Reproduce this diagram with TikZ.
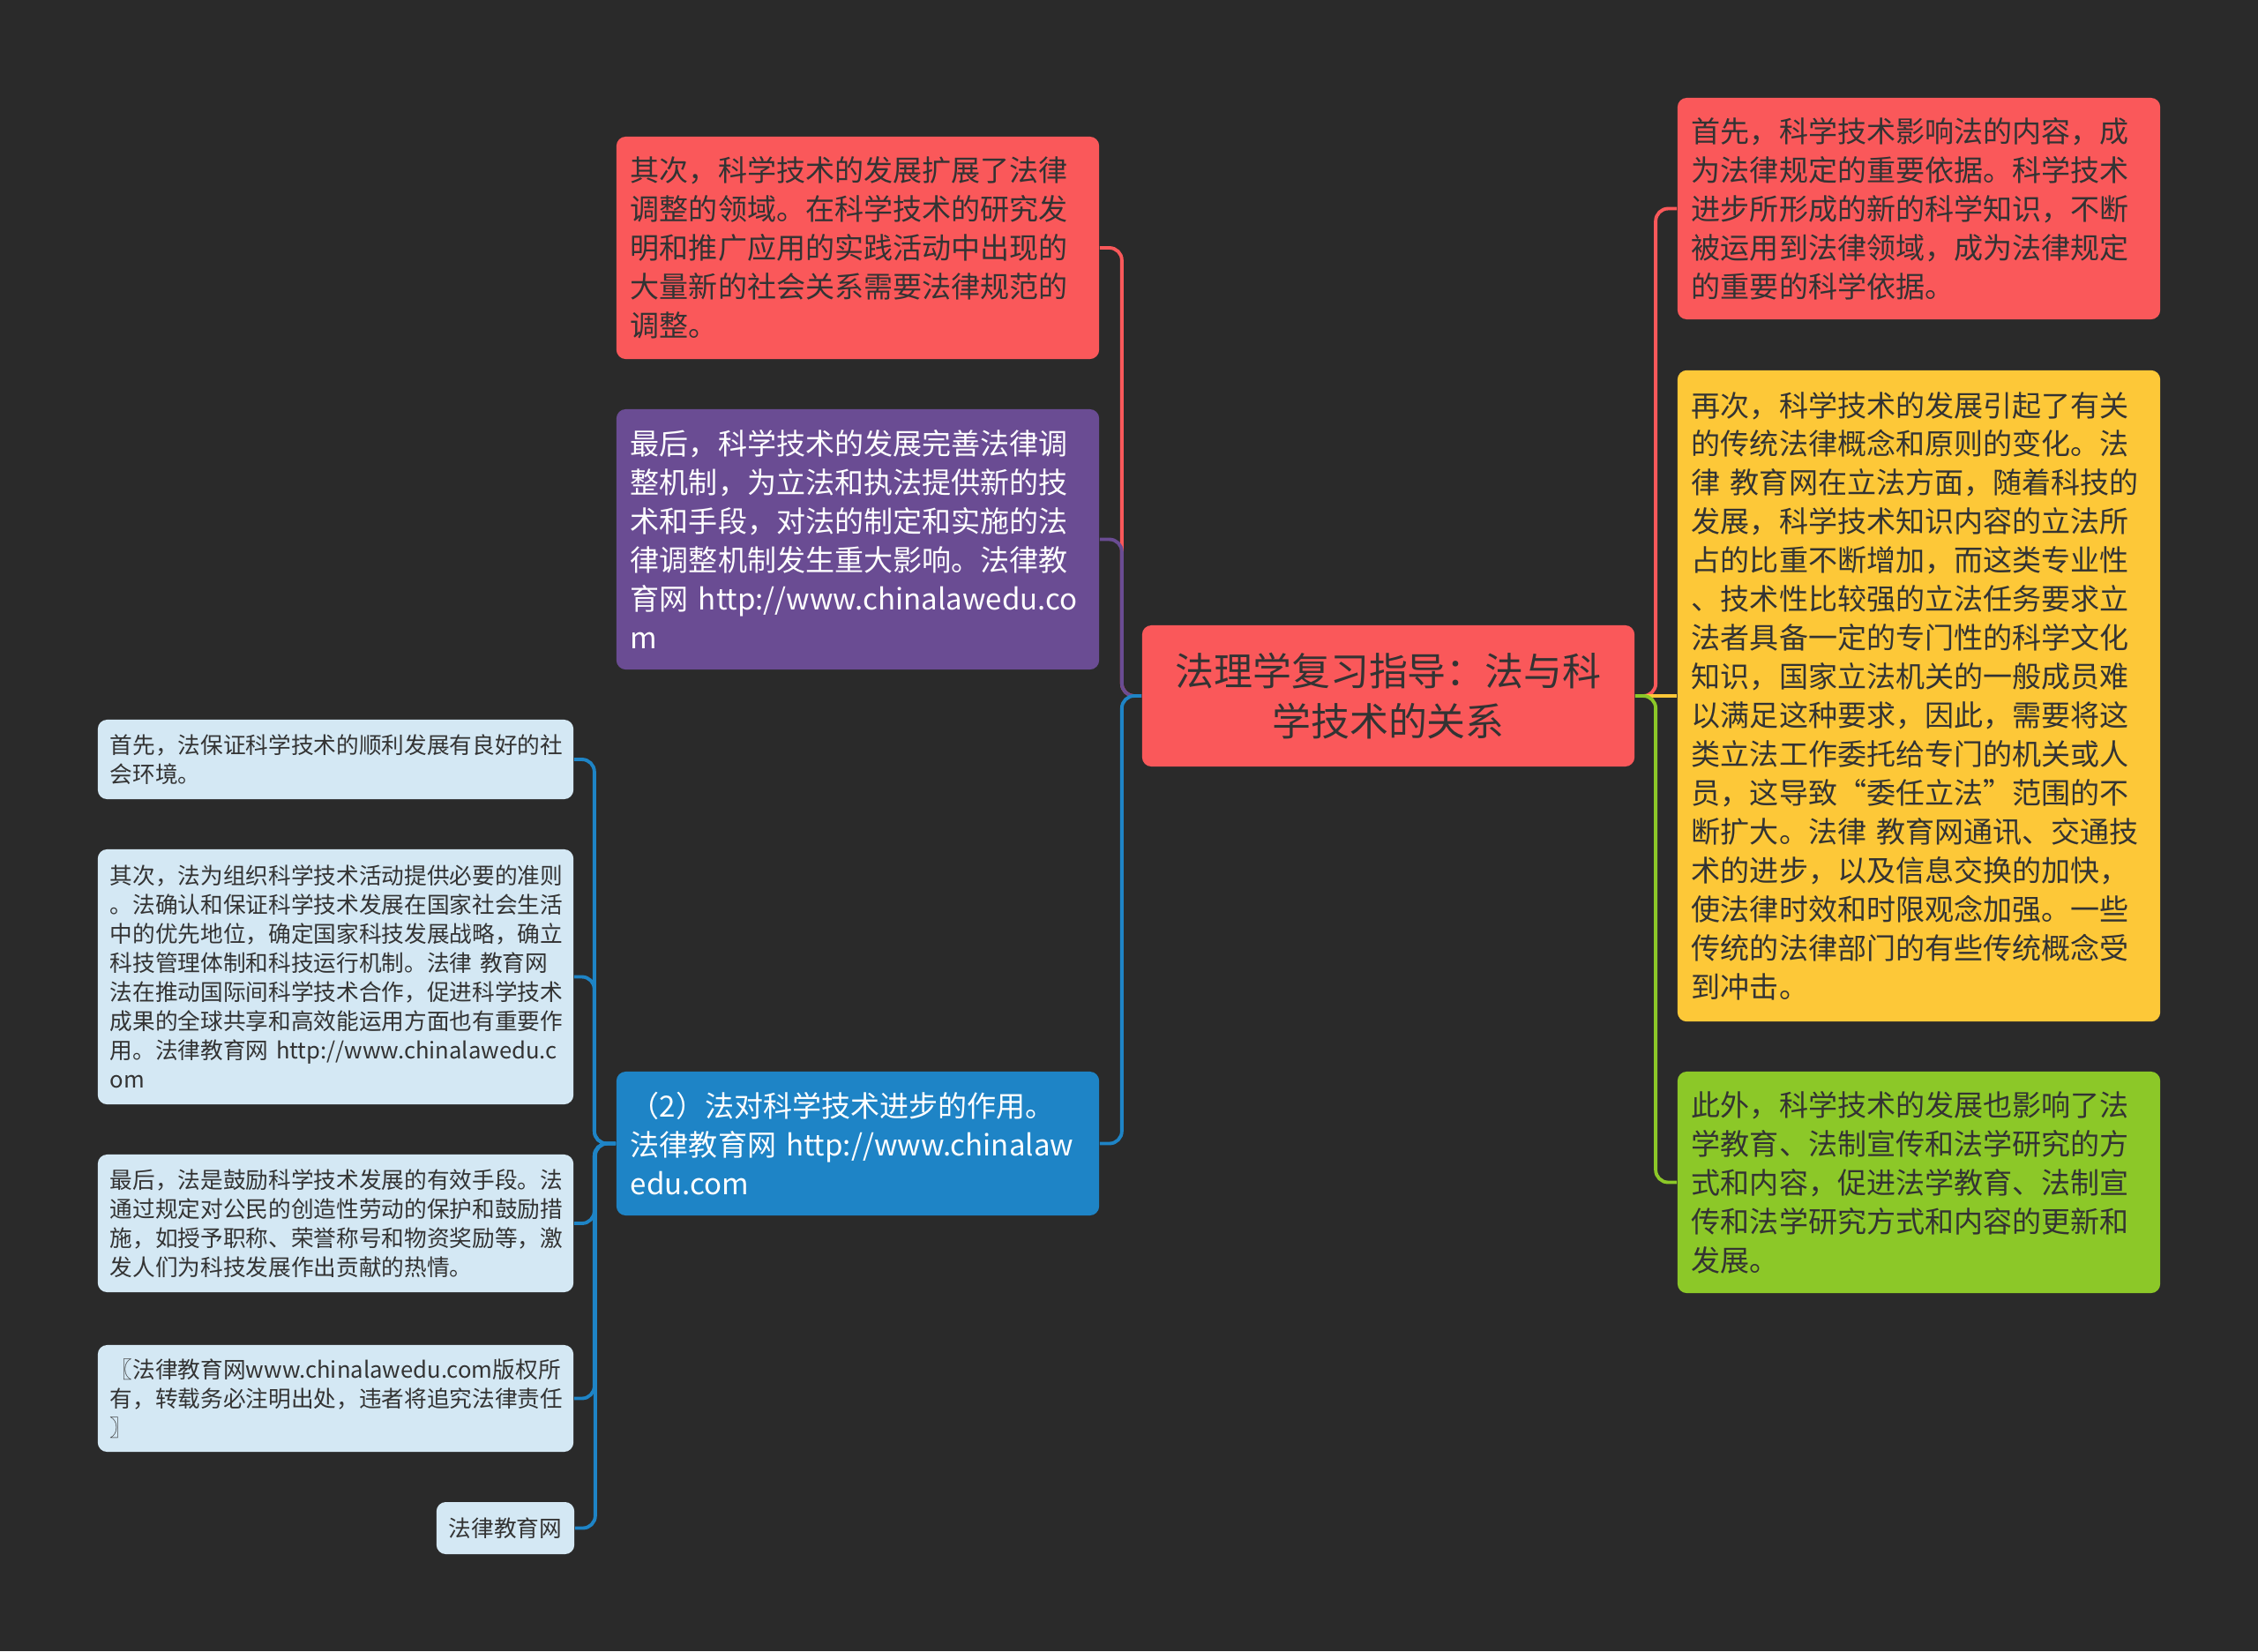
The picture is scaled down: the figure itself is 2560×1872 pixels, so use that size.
\documentclass[tikz,border=0pt]{standalone}
\usepackage{fontspec}
\setmainfont{Noto Sans CJK SC}
\definecolor{bgdark}{RGB}{42,42,42}
\definecolor{txtdark}{RGB}{51,51,51}
\definecolor{lawred}{RGB}{250,88,90}
\definecolor{lawpurple}{RGB}{106,76,147}
\definecolor{lawblue}{RGB}{30,132,198}
\definecolor{lawyellow}{RGB}{253,200,56}
\definecolor{lawgreen}{RGB}{140,200,40}
\definecolor{lawpale}{RGB}{212,232,244}
\tikzset{
  rootbox/.style={rectangle, fill=lawred, text=txtdark, rounded corners=3pt,
    minimum width=5.58cm, minimum height=1.60cm, text width=5.2cm, align=center,
    font=\fontsize{12.5pt}{16.2pt}\selectfont},
  mainbox/.style={rectangle, text=txtdark, rounded corners=3pt,
    inner xsep=0.16cm, inner ysep=0cm, text width=5.15cm, align=left,
    font=\fontsize{9.4pt}{12.5pt}\selectfont},
  leafbox/.style={rectangle, fill=lawpale, text=txtdark, rounded corners=3pt,
    inner xsep=0.14cm, inner ysep=0cm, text width=5.11cm, align=left,
    font=\fontsize{7.3pt}{9.4pt}\selectfont},
  branch/.style={line width=1.1pt, rounded corners=4pt}
}
\begin{document}
\begin{tikzpicture}[x=0.01cm, y=-0.01cm]
  \fill[bgdark] (0,0) rectangle (2560,1872);
  \useasboundingbox (0,0) rectangle (2560,1872);

  % Nodes
  \node[rootbox] (root) at (1574,789) {法理学复习指导：法与科\\学技术的关系};

  \node[mainbox, fill=lawred, minimum height=2.52cm] (widen) at (972.5,281) {其次，科学技术的发展扩展了法律\\
    调整的领域。在科学技术的研究发\\
    明和推广应用的实践活动中出现的\\
    大量新的社会关系需要法律规范的\\
    调整。};
  \node[mainbox, fill=lawpurple, text=white, minimum height=2.95cm] (perfect) at (972.5,611.5) {最后，科学技术的发展完善法律调\\
    整机制，为立法和执法提供新的技\\
    术和手段，对法的制定和实施的法\\
    律调整机制发生重大影响。法律教\\
    育网~http://www.chinalawedu.co\\
    m};
  \node[mainbox, fill=lawblue, text=white, minimum height=1.63cm] (lawrole) at (972.5,1296.5) {（2）法对科学技术进步的作用。\\
    法律教育网~http://www.chinalaw\\
    edu.com};

  \node[mainbox, fill=lawred, minimum height=2.51cm] (content) at (2175.5,236.5) {首先，科学技术影响法的内容，成\\
    为法律规定的重要依据。科学技术\\
    进步所形成的新的科学知识，不断\\
    被运用到法律领域，成为法律规定\\
    的重要的科学依据。};
  \node[mainbox, fill=lawyellow, minimum height=7.38cm] (concept) at (2175.5,789) {再次，科学技术的发展引起了有关\\
    的传统法律概念和原则的变化。法\\
    律~教育网在立法方面，随着科技的\\
    发展，科学技术知识内容的立法所\\
    占的比重不断增加，而这类专业性\\
    、技术性比较强的立法任务要求立\\
    法者具备一定的专门性的科学文化\\
    知识，国家立法机关的一般成员难\\
    以满足这种要求，因此，需要将这\\
    类立法工作委托给专门的机关或人\\
    员，这导致“委任立法”范围的不\\
    断扩大。法律~教育网通讯、交通技\\
    术的进步，以及信息交换的加快，\\
    使法律时效和时限观念加强。一些\\
    传统的法律部门的有些传统概念受\\
    到冲击。};
  \node[mainbox, fill=lawgreen, minimum height=2.51cm] (education) at (2175.5,1340.5) {此外，科学技术的发展也影响了法\\
    学教育、法制宣传和法学研究的方\\
    式和内容，促进法学教育、法制宣\\
    传和法学研究方式和内容的更新和\\
    发展。};

  \node[leafbox, minimum height=0.90cm] (guard) at (380.5,861) {首先，法保证科学技术的顺利发展有良好的社\\
    会环境。};
  \node[leafbox, minimum height=2.89cm] (organize) at (380.5,1107.5) {其次，法为组织科学技术活动提供必要的准则\\
    。法确认和保证科学技术发展在国家社会生活\\
    中的优先地位，确定国家科技发展战略，确立\\
    科技管理体制和科技运行机制。法律~教育网\\
    法在推动国际间科学技术合作，促进科学技术\\
    成果的全球共享和高效能运用方面也有重要作\\
    用。法律教育网~http://www.chinalawedu.c\\
    om};
  \node[leafbox, minimum height=1.56cm] (encourage) at (380.5,1387) {最后，法是鼓励科学技术发展的有效手段。法\\
    通过规定对公民的创造性劳动的保护和鼓励措\\
    施，如授予职称、荣誉称号和物资奖励等，激\\
    发人们为科技发展作出贡献的热情。};
  \node[leafbox, minimum height=1.21cm] (notice) at (380.5,1585.5) {〖法律教育网www.chinalawedu.com版权所\\
    有，转载务必注明出处，违者将追究法律责任\\
    〗};
  \node[leafbox, text width=, align=center, minimum width=1.54cm, minimum height=0.59cm] (site) at (573,1732.5) {法律教育网};

  % Branches
  \draw[branch, lawred] (widen.east) -- ++(25,0) |- (root.west);
  \draw[branch, lawpurple] (perfect.east) -- ++(25,0) |- (root.west);
  \draw[branch, lawblue] (lawrole.east) -- ++(25,0) |- (root.west);

  \draw[branch, lawred] (content.west) -- ++(-24,0) |- (root.east);
  \draw[branch, lawyellow] (concept.west) -- (root.east);
  \draw[branch, lawgreen] (education.west) -- ++(-24,0) |- (root.east);

  \foreach \leaf in {guard, organize, encourage, notice, site}
    \draw[branch, lawblue] (\leaf.east) -- ++(23,0) |- (lawrole.west);

\end{tikzpicture}
\end{document}
